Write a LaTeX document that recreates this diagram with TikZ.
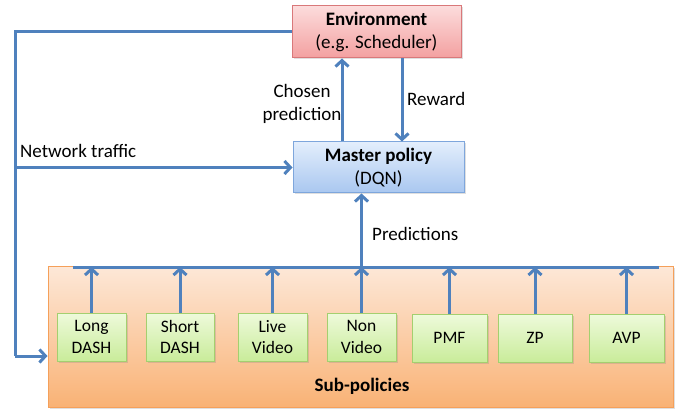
\documentclass[tikz,border=0pt]{standalone}
\usepackage{fontspec}
\setmainfont{Carlito}
\usetikzlibrary{arrows.meta,shadows}

\definecolor{flowblue}{HTML}{4F81BD}
\definecolor{envtop}{HTML}{FCDCDC}
\definecolor{envbot}{HTML}{F3A0A0}
\definecolor{envline}{HTML}{D9787A}
\definecolor{mastop}{HTML}{E3EEFC}
\definecolor{masbot}{HTML}{A9C7F0}
\definecolor{masline}{HTML}{7EA6DC}
\definecolor{subtop}{HTML}{FDE8D8}
\definecolor{subbot}{HTML}{F9B275}
\definecolor{subline}{HTML}{F5A05A}
\definecolor{poltop}{HTML}{EEFADB}
\definecolor{polbot}{HTML}{C9EC9A}
\definecolor{polline}{HTML}{A4CF6F}

\tikzset{
  flow/.style={draw=flowblue, line width=3pt},
  flowto/.style={flow, -{Straight Barb[length=6pt,width=13pt,line width=3pt]}},
  shadebox/.style={line width=1pt, align=center, inner sep=0pt,
    drop shadow={shadow xshift=1.5pt, shadow yshift=-1.5pt, opacity=0.25}},
  envbox/.style={shadebox, draw=envline, top color=envtop, bottom color=envbot,
    minimum width=169pt, minimum height=52pt},
  masbox/.style={shadebox, draw=masline, top color=mastop, bottom color=masbot,
    minimum width=171pt, minimum height=51pt},
  subsbox/.style={shadebox, draw=subline, top color=subtop, bottom color=subbot,
    minimum width=625pt, minimum height=141pt},
  polbox/.style={shadebox, draw=polline, top color=poltop, bottom color=polbot,
    minimum height=48pt, font=\fontsize{17.5}{21.5}\selectfont},
  lbl/.style={align=center, inner sep=0pt}
}

\begin{document}
\begin{tikzpicture}[x=1pt, y=-1pt, font=\fontsize{19}{23}\selectfont]
\useasboundingbox (0,0) rectangle (684,411);

% boxes
\node[subsbox] (subs) at (360.5,336.5) {};
\node[lbl, font=\fontsize{19}{23}\selectfont\bfseries] (subtitle) at (362,386) {Sub-policies};
\node[envbox] (env) at (376.5,32) {\textbf{Environment}\\(e.g. Scheduler)};
\node[masbox] (master) at (378.5,167.5) {\textbf{Master policy}\\(DQN)};

% sub-policies
\node[polbox, minimum width=69pt] (long) at (91.5,337) {Long\\DASH};
\node[polbox, minimum width=68pt] (short) at (180,337) {Short\\DASH};
\node[polbox, minimum width=69pt] (live) at (272.5,337) {Live\\Video};
\node[polbox, minimum width=69pt] (nonvid) at (361.5,337) {Non\\Video};
\node[polbox, minimum width=75pt] (pmf) at (449.5,338) {PMF};
\node[polbox, minimum width=74pt] (zp) at (535,338) {ZP};
\node[polbox, minimum width=75pt] (avp) at (626.5,338) {AVP};

% bus
\coordinate (busL) at (73,267);
\coordinate (busR) at (659,267);
\draw[flow] (busL) -- (busR);
\foreach \p in {long,short,live,nonvid,pmf,zp,avp}
  \draw[flowto] (\p.north) -- (\p.north |- busL);

% predictions up to master
\draw[flowto] (nonvid.north |- busL) -- (nonvid.north |- master.south);
\node[lbl, anchor=west] (predlbl) at (372,234) {Predictions};

% master <-> environment
\draw[flowto] (master.north -| 342,0) -- (env.south -| 342,0);
\draw[flowto] (env.south -| 402,0) -- (master.north -| 402,0);
\node[lbl] (chosenlbl) at (302,103.5) {Chosen\\prediction};
\node[lbl, anchor=west] (rewardlbl) at (407,99) {Reward};

% network traffic
\coordinate (nettop) at (15,32);
\coordinate (netmid) at (15,167.5);
\draw[flow] (env.west) -- (nettop) -- (15,356);
\draw[flowto] (15,356) -- (subs.west |- 0,356);
\draw[flowto] (netmid) -- (master.west);
\node[lbl, anchor=west] (netlbl) at (20,151) {Network traffic};
\end{tikzpicture}
\end{document}
